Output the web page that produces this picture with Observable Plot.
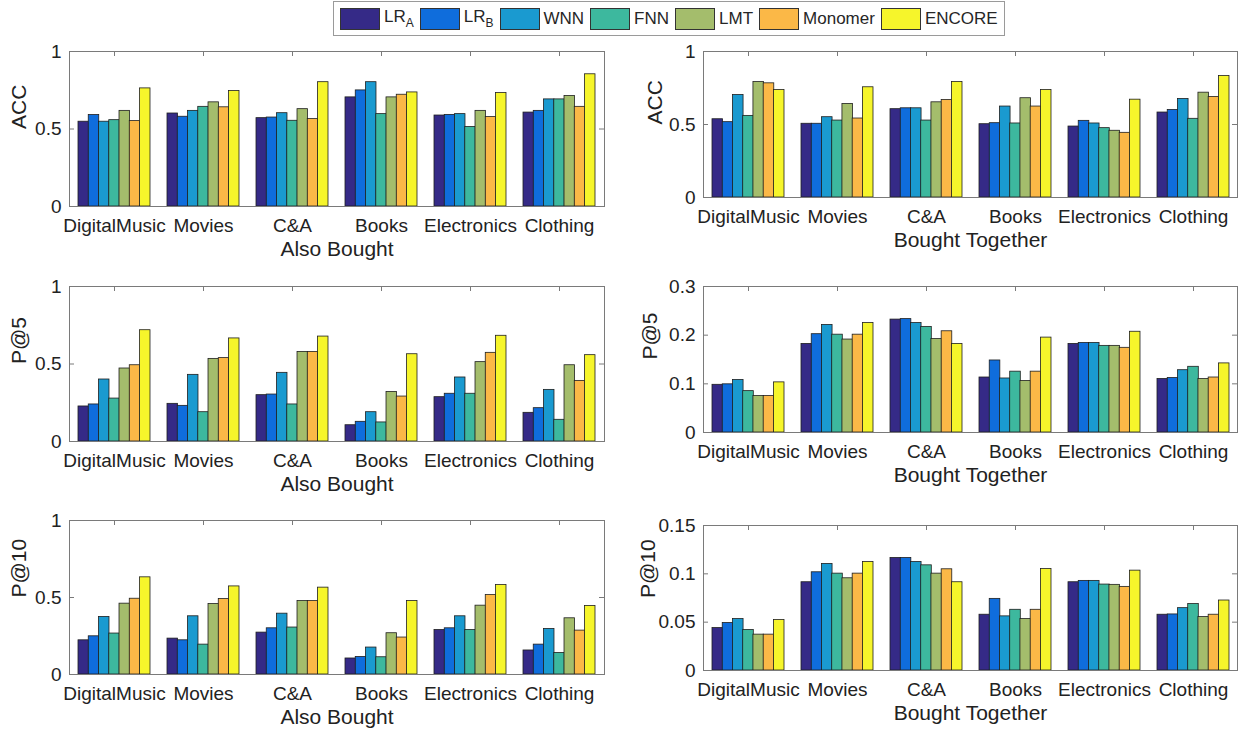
<!DOCTYPE html>
<html>
<head>
<meta charset="utf-8">
<script src="https://cdn.jsdelivr.net/npm/d3@7"></script>
<script src="https://cdn.jsdelivr.net/npm/@observablehq/plot@0.6"></script>
<style>
  html, body { margin: 0; padding: 0; background: #fff; }
  #root { position: relative; width: 1244px; height: 734px; overflow: hidden; font-family: "Liberation Sans", Arial, sans-serif; color: #262626; }
  .panel { position: absolute; }
  .legend { position: absolute; left: 333px; top: 1px; height: 35px; box-sizing: border-box; border: 1px solid #9a9a9a; background: #fff;
            display: flex; align-items: center; padding: 0 6px; font-size: 17px; white-space: nowrap; }
  .legend .item { display: flex; align-items: center; margin-right: 6px; }
  .legend .item:last-child { margin-right: 0; }
  .legend .sw { width: 40px; height: 22px; box-sizing: border-box; border: 1px solid #333; margin-right: 4px; }
  .legend sub { font-size: 12px; vertical-align: -5px; }
</style>
</head>
<body>
<div id="root"></div>
<script>
// ---- data ----
const categories = ["DigitalMusic", "Movies", "C&A", "Books", "Electronics", "Clothing"];
const series = ["LRA", "LRB", "WNN", "FNN", "LMT", "Monomer", "ENCORE"];
const seriesLabels = ["LR<sub>A</sub>", "LR<sub>B</sub>", "WNN", "FNN", "LMT", "Monomer", "ENCORE"];
const colors = ["#352a87", "#0f6ddc", "#1a9ad0", "#3db89e", "#a4bd6c", "#fbb847", "#f6f52b"];

// rows = categories, columns = series
const accAlso = [
  [0.547, 0.590, 0.547, 0.557, 0.617, 0.551, 0.762],
  [0.600, 0.579, 0.617, 0.643, 0.672, 0.640, 0.745],
  [0.570, 0.574, 0.602, 0.553, 0.628, 0.564, 0.802],
  [0.704, 0.749, 0.802, 0.596, 0.704, 0.721, 0.736],
  [0.587, 0.591, 0.596, 0.513, 0.617, 0.577, 0.732],
  [0.606, 0.617, 0.691, 0.691, 0.713, 0.643, 0.853]
];
const accTogether = [
  [0.536, 0.516, 0.702, 0.559, 0.791, 0.782, 0.736],
  [0.505, 0.505, 0.550, 0.527, 0.641, 0.541, 0.755],
  [0.605, 0.611, 0.611, 0.527, 0.652, 0.668, 0.791],
  [0.502, 0.509, 0.623, 0.507, 0.680, 0.623, 0.736],
  [0.486, 0.525, 0.507, 0.475, 0.457, 0.443, 0.670],
  [0.582, 0.600, 0.675, 0.539, 0.718, 0.689, 0.832]
];
const p5Also = [
  [0.226, 0.239, 0.400, 0.277, 0.471, 0.492, 0.718],
  [0.243, 0.230, 0.430, 0.189, 0.533, 0.538, 0.665],
  [0.299, 0.303, 0.443, 0.239, 0.578, 0.578, 0.677],
  [0.105, 0.127, 0.189, 0.123, 0.320, 0.290, 0.563],
  [0.286, 0.308, 0.413, 0.308, 0.512, 0.572, 0.682],
  [0.185, 0.215, 0.333, 0.140, 0.492, 0.391, 0.557]
];
const p5Together = [
  [0.098, 0.099, 0.108, 0.085, 0.075, 0.075, 0.103],
  [0.182, 0.202, 0.221, 0.201, 0.191, 0.201, 0.225],
  [0.232, 0.233, 0.225, 0.217, 0.192, 0.208, 0.182],
  [0.113, 0.148, 0.111, 0.125, 0.106, 0.125, 0.195],
  [0.182, 0.184, 0.184, 0.178, 0.178, 0.174, 0.207],
  [0.110, 0.112, 0.128, 0.135, 0.110, 0.113, 0.142]
];
const p10Also = [
  [0.222, 0.248, 0.374, 0.266, 0.460, 0.492, 0.631],
  [0.233, 0.222, 0.378, 0.194, 0.458, 0.490, 0.572],
  [0.272, 0.300, 0.395, 0.305, 0.477, 0.477, 0.564],
  [0.104, 0.114, 0.175, 0.112, 0.268, 0.240, 0.477],
  [0.289, 0.300, 0.378, 0.289, 0.447, 0.516, 0.581],
  [0.156, 0.194, 0.296, 0.140, 0.365, 0.285, 0.445]
];
const p10Together = [
  [0.0439, 0.0491, 0.0532, 0.0419, 0.0371, 0.0371, 0.0522],
  [0.0913, 0.1016, 0.1102, 0.1002, 0.0954, 0.1002, 0.1122],
  [0.1164, 0.1164, 0.1122, 0.1088, 0.1002, 0.1047, 0.0913],
  [0.0577, 0.0741, 0.0560, 0.0628, 0.0532, 0.0628, 0.1050],
  [0.0913, 0.0927, 0.0927, 0.0889, 0.0886, 0.0865, 0.1033],
  [0.0577, 0.0580, 0.0645, 0.0687, 0.0553, 0.0577, 0.0724]
];
const ticksUnit = [0, 0.5, 1];
const ticksP5 = [0, 0.1, 0.2, 0.3];
const ticksP10 = [0, 0.05, 0.1, 0.15];

// ---- drawing ----
const FONT = "Liberation Sans, Arial, Helvetica, sans-serif";
const AXIS = "#7a7a7a";
const TICK_FONT = 19;
const LABEL_FONT = 21;
const root = document.getElementById("root");

// legend
const legend = document.createElement("div");
legend.className = "legend";
series.forEach((s, i) => {
  const it = document.createElement("div");
  it.className = "item";
  it.innerHTML = `<span class="sw" style="background:${colors[i]}"></span><span>${seriesLabels[i]}</span>`;
  legend.appendChild(it);
});
root.appendChild(legend);

function panel(cfg) {
  const {values, yLabel, xLabel, yMax, yTicks, left, top, width, height, mt, mb, ml, mr, ylabDx} = cfg;
  const boxW = width - ml - mr;
  const boxH = height - mt - mb;
  const pin = 0.195, pout = 0.0975;
  const step = boxW / (categories.length - pin + 2 * pout);
  const bw = step * (1 - pin) / series.length;
  const rowsFor = (i) => categories.map((c, j) => ({cat: c, v: values[j][i]}));
  const chart = Plot.plot({
    width, height,
    marginTop: mt, marginBottom: mb, marginLeft: ml, marginRight: mr,
    style: {fontFamily: FONT, fontSize: TICK_FONT + "px", color: "#222", background: "transparent", overflow: "visible"},
    x: {domain: categories, paddingInner: pin, paddingOuter: pout},
    y: {domain: [0, yMax]},
    marks: [
      Plot.tickX(categories, {x: (d) => d, insetBottom: boxH - 5, stroke: AXIS}),
      Plot.tickX(categories, {x: (d) => d, insetTop: boxH - 5, stroke: AXIS}),
      ...series.map((s, i) => Plot.barY(rowsFor(i), {
        x: "cat", y: "v", fill: colors[i], stroke: "#1e1e1e", strokeWidth: 0.8,
        insetLeft: i * bw, insetRight: (series.length - 1 - i) * bw
      })),
      Plot.tickY(yTicks, {y: (d) => d, insetRight: boxW - 5, stroke: AXIS}),
      Plot.tickY(yTicks, {y: (d) => d, insetLeft: boxW - 5, stroke: AXIS}),
      Plot.frame({stroke: AXIS}),
      Plot.axisX({tickSize: 0, tickPadding: 12, label: null, fontSize: TICK_FONT}),
      Plot.axisY({ticks: yTicks, tickSize: 0, tickPadding: 8, tickFormat: (d) => String(d), label: null, fontSize: TICK_FONT}),
      Plot.text([xLabel], {text: (d) => d, frameAnchor: "bottom", dy: 49, fontSize: LABEL_FONT}),
      Plot.text([yLabel], {text: (d) => d, frameAnchor: "left", rotate: -90, dx: ylabDx, fontSize: LABEL_FONT})
    ]
  });
  const wrap = document.createElement("div");
  wrap.className = "panel";
  wrap.style.left = left + "px";
  wrap.style.top = top + "px";
  wrap.appendChild(chart);
  root.appendChild(wrap);
}

const L = {left: 0, width: 620, ml: 69, mr: 16};
const R = {left: 622, width: 622, ml: 81, mr: 7};

panel({...L, top: 40, height: 225, mt: 11, mb: 59, values: accAlso, yLabel: "ACC", xLabel: "Also Bought", yMax: 1, yTicks: ticksUnit, ylabDx: -50});
panel({...R, top: 40, height: 225, mt: 11, mb: 68, values: accTogether, yLabel: "ACC", xLabel: "Bought Together", yMax: 1, yTicks: ticksUnit, ylabDx: -48});
panel({...L, top: 270, height: 225, mt: 16, mb: 54, values: p5Also, yLabel: "P@5", xLabel: "Also Bought", yMax: 1, yTicks: ticksUnit, ylabDx: -50});
panel({...R, top: 270, height: 225, mt: 16, mb: 63, values: p5Together, yLabel: "P@5", xLabel: "Bought Together", yMax: 0.3, yTicks: ticksP5, ylabDx: -53});
panel({...L, top: 505, height: 229, mt: 15, mb: 60, values: p10Also, yLabel: "P@10", xLabel: "Also Bought", yMax: 1, yTicks: ticksUnit, ylabDx: -50});
panel({...R, top: 505, height: 229, mt: 20, mb: 64, values: p10Together, yLabel: "P@10", xLabel: "Bought Together", yMax: 0.15, yTicks: ticksP10, ylabDx: -55});
</script>
</body>
</html>
